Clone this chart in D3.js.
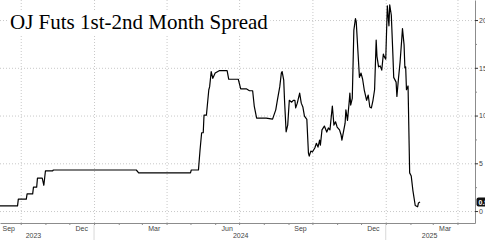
<!DOCTYPE html>
<html>
<head>
<meta charset="utf-8">
<script src="https://cdn.jsdelivr.net/npm/d3@7"></script>
<style>
	body { margin: 0; background: #fff; }
	svg { display: block; }
</style>
</head>
<body>
<svg id="chart" width="485" height="240"></svg>
<script>
var spreadDates = [
	'2023-09-05','2023-09-27','2023-09-28','2023-10-08','2023-10-09','2023-10-16','2023-10-17','2023-10-21','2023-10-22','2023-10-28',
	'2023-10-30','2023-11-01','2023-11-10','2023-11-11','2024-02-23','2024-02-26','2024-05-01','2024-05-02','2024-05-11','2024-05-13',
	'2024-05-15','2024-05-17','2024-05-18','2024-05-21','2024-05-24','2024-05-25','2024-05-27','2024-05-29','2024-06-01','2024-06-06',
	'2024-06-16','2024-06-18','2024-06-30','2024-07-03','2024-07-10','2024-07-14','2024-07-18','2024-07-20','2024-07-23','2024-08-04',
	'2024-08-12','2024-08-16','2024-08-18','2024-08-21','2024-08-23','2024-08-24','2024-08-26','2024-08-27','2024-08-29','2024-08-31',
	'2024-09-02','2024-09-05','2024-09-07','2024-09-09','2024-09-10','2024-09-12','2024-09-15','2024-09-17','2024-09-19','2024-09-21',
	'2024-09-24','2024-09-26','2024-09-27','2024-09-29','2024-10-01','2024-10-04','2024-10-06','2024-10-08','2024-10-10','2024-10-11',
	'2024-10-13','2024-10-16','2024-10-19','2024-10-21','2024-10-23','2024-10-26','2024-10-28','2024-10-30','2024-11-01','2024-11-04',
	'2024-11-06','2024-11-07','2024-11-11','2024-11-12','2024-11-14','2024-11-16','2024-11-17','2024-11-18','2024-11-20','2024-11-22',
	'2024-11-24','2024-11-25','2024-11-27','2024-11-29','2024-12-01','2024-12-03','2024-12-05','2024-12-08','2024-12-10','2024-12-12',
	'2024-12-14','2024-12-16','2024-12-18','2024-12-20','2024-12-21','2024-12-23','2024-12-25','2024-12-27','2024-12-29','2024-12-30',
	'2025-01-01','2025-01-03','2025-01-05','2025-01-06','2025-01-08','2025-01-10','2025-01-11','2025-01-14','2025-01-15','2025-01-17',
	'2025-01-19','2025-01-21','2025-01-22','2025-01-24','2025-01-25','2025-01-26','2025-01-27','2025-01-29','2025-01-31','2025-02-02',
	'2025-02-04','2025-02-07','2025-02-10','2025-02-11','2025-02-13'
];
var spreadValues = [
	0.55,0.55,1.25,1.25,1.8,1.8,2.5,2.5,3.45,3.45,
	2.7,4.2,4.2,4.3,4.3,4.0,4.0,4.3,4.3,6.4,
	8.2,8.2,10.05,10.05,12.7,13.0,14.6,13.9,14.45,14.7,
	14.7,13.8,13.8,12.8,12.8,12.6,12.6,11.0,9.74,9.74,
	9.63,10.6,11.6,13.0,14.45,14.6,13.7,11.6,8.3,9.0,
	11.6,11.4,11.6,11.6,10.8,11.3,12.35,11.3,10.9,9.95,
	9.6,6.07,5.76,6.28,6.18,6.6,7.1,6.7,7.43,6.9,
	8.5,8.9,8.27,8.7,8.5,11.0,9.0,9.35,8.8,8.5,
	7.96,7.43,9.2,10.6,9.5,11.3,12.35,11.1,11.8,18.95,
	20.15,19.8,16.86,14.0,14.45,13.8,12.7,11.6,12.15,10.9,
	10.8,11.6,12.7,17.9,16.2,15.1,15.2,14.76,16.44,16.2,
	15.9,21.5,19.4,21.6,20.5,16.3,14.0,13.5,12.0,13.9,
	15.6,17.9,19.1,17.4,15.0,15.1,12.7,13.1,4.0,3.66,
	2.2,0.58,0.45,0.84,0.94
];
var yTickValues = [0, 5, 10, 15, 20];
var yMinorTicks = [2.5, 7.5, 12.5, 17.5];
var monthLabels = ['Sep', 'Dec', 'Mar', 'Jun', 'Sep', 'Dec', 'Mar'];
var monthLabelDates = ['2023-09-01', '2023-12-01', '2024-03-01', '2024-06-01', '2024-09-01', '2024-12-01', '2025-03-01'];
var yearLabels = ['2023', '2024', '2025'];
var yearLabelDates = ['2023-10-17', '2024-07-03', '2025-02-25'];
var yearBreaks = ['2024-01-01', '2025-01-01'];

var parse = d3.utcParse('%Y-%m-%d');
var plotW = 475, plotH = 223;
var gridColor = '#c8c8c8', axisColor = '#8c8c8c';
var labelFont = '"Liberation Sans", Arial, sans-serif';

var data = spreadDates.map(function(d, i) {
	return { date: parse(d), value: spreadValues[i] };
});

var x = d3.scaleUtc().domain([parse('2023-09-05'), parse('2025-04-23')]).range([0, plotW]);
var y = d3.scaleLinear().domain([-1.25, 22.1]).range([plotH, 0]);

var svg = d3.select('#chart');

// dotted grid, vertical lines at quarter boundaries
svg.append('g')
	.attr('transform', 'translate(0,' + plotH + ')')
	.call(d3.axisBottom(x).ticks(d3.utcMonth.every(3)).tickSize(-plotH).tickFormat(''))
	.call(function(g) {
		g.select('.domain').remove();
		g.selectAll('line').attr('stroke', gridColor).attr('stroke-dasharray', '1,2');
	});

svg.append('g')
	.attr('transform', 'translate(' + plotW + ',0)')
	.call(d3.axisLeft(y).tickValues(yTickValues).tickSize(plotW).tickFormat(''))
	.call(function(g) {
		g.select('.domain').remove();
		g.selectAll('line').attr('stroke', gridColor).attr('stroke-dasharray', '1,2');
	});

// title with white box over the grid
var titleBox = svg.append('rect').attr('fill', '#fff');
var title = svg.append('text')
	.attr('x', 10)
	.attr('y', 29)
	.style('font-family', '"Liberation Serif", "Times New Roman", serif')
	.style('font-size', '21px')
	.attr('fill', '#000')
	.text('OJ Futs 1st-2nd Month Spread');
var tb = title.node().getBBox();
titleBox
	.attr('x', tb.x - 2).attr('y', tb.y + 1)
	.attr('width', tb.width + 4).attr('height', tb.height - 1);

// series
svg.append('path')
	.datum(data)
	.attr('fill', 'none')
	.attr('stroke', '#000')
	.attr('stroke-width', 1.2)
	.attr('stroke-linejoin', 'round')
	.attr('d', d3.line().x(function(d) { return x(d.date); }).y(function(d) { return y(d.value); }));

// bottom axis with monthly ticks
svg.append('g')
	.attr('transform', 'translate(0,' + plotH + ')')
	.call(d3.axisBottom(x).ticks(d3.utcMonth.every(1)).tickSize(2).tickSizeOuter(0).tickFormat(''))
	.call(function(g) {
		g.select('.domain').attr('stroke', axisColor);
		g.selectAll('line').attr('stroke', axisColor);
	});

svg.append('g').selectAll('text')
	.data(monthLabels)
	.join('text')
	.attr('x', function(d, i) {
		var m = parse(monthLabelDates[i]);
		return (x(m) + x(d3.utcMonth.offset(m, 1))) / 2;
	})
	.attr('y', 230.5)
	.attr('text-anchor', 'middle')
	.style('font-family', labelFont)
	.style('font-size', '7px')
	.attr('fill', '#444')
	.text(function(d) { return d; });

svg.append('g').selectAll('line')
	.data(yearBreaks)
	.join('line')
	.attr('x1', function(d) { return x(parse(d)); })
	.attr('x2', function(d) { return x(parse(d)); })
	.attr('y1', 225).attr('y2', 240)
	.attr('stroke', '#d8d8d8');

svg.append('g').selectAll('text')
	.data(yearLabels)
	.join('text')
	.attr('x', function(d, i) { return x(parse(yearLabelDates[i])); })
	.attr('y', 238)
	.attr('text-anchor', 'middle')
	.style('font-family', labelFont)
	.style('font-size', '7px')
	.attr('fill', '#444')
	.text(function(d) { return d; });

// right value axis
svg.append('g')
	.attr('transform', 'translate(' + plotW + ',0)')
	.call(d3.axisRight(y).tickValues(yMinorTicks).tickSize(2).tickSizeOuter(0).tickFormat(''))
	.call(function(g) {
		g.select('.domain').remove();
		g.selectAll('line').attr('stroke', axisColor);
	});

svg.append('g')
	.attr('transform', 'translate(' + plotW + ',0)')
	.call(d3.axisRight(y).tickValues(yTickValues).tickSize(3).tickSizeOuter(0).tickPadding(1))
	.call(function(g) {
		g.select('.domain').attr('stroke', axisColor);
		g.selectAll('line').attr('stroke', '#333');
		g.selectAll('text')
			.style('font-family', labelFont)
			.style('font-size', '7px')
			.attr('fill', '#444');
	});

// last value tag
var last = data[data.length - 1];
var tagY = y(last.value);
svg.append('rect')
	.attr('x', plotW + 1.5).attr('y', tagY - 4.5)
	.attr('width', 20).attr('height', 9)
	.attr('rx', 2)
	.attr('fill', '#111');
svg.append('text')
	.attr('x', plotW + 3.5).attr('y', tagY + 2.5)
	.style('font-family', labelFont)
	.style('font-size', '7px')
	.style('font-weight', 'bold')
	.attr('fill', '#fff')
	.text(d3.format('.2f')(last.value));
</script>
</body>
</html>
